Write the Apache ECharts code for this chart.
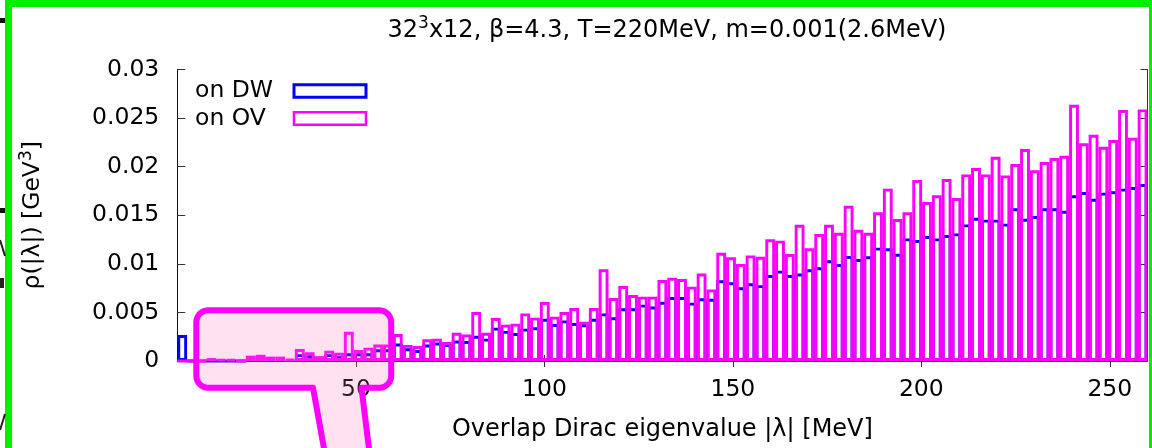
<!DOCTYPE html>
<html>
<head>
<meta charset="utf-8">
<script src="https://cdn.jsdelivr.net/npm/echarts@6/dist/echarts.min.js"></script>
<style>
  html, body { margin: 0; padding: 0; background: #ffffff; }
  #chart { width: 1152px; height: 448px; }
</style>
</head>
<body>
<div id="chart"></div>
<script>
// Eigenvalue density histogram, 32^3x12 lattice, beta=4.3, T=220 MeV
const BIN_WIDTH = 2.6;             // MeV per histogram bin
const X_MIN = 2.6;
const X_MAX = 260;
const xTickValues = [50, 100, 150, 200, 250];
const Y_MIN = 0;
const Y_MAX = 0.03;
const Y_STEP = 0.005;

const seriesNames = ['on DW', 'on OV'];

// rho(|lambda|) [GeV^3] per bin, bins starting at 2.6 MeV
const dwDensity = [
  0.00267, 0, 0, 0, 0, 0, 0, 0.00028, 0.00038, 0.0002,
  0.0002, 0.0001, 0.0007, 0.0006, 0.0004, 0.0007, 0.0005, 0.0008, 0.0008, 0.0008,
  0.0012, 0.0012, 0.0018, 0.0013, 0.00113, 0.0017, 0.0019, 0.00175, 0.0021, 0.00206,
  0.0026, 0.0023, 0.00343, 0.0031, 0.00288, 0.00333, 0.00347, 0.00435, 0.0038, 0.00418,
  0.0039, 0.00377, 0.00435, 0.0049, 0.0045, 0.00542, 0.00542, 0.0058, 0.0056, 0.0061,
  0.00658, 0.00658, 0.006, 0.00645, 0.0064, 0.0083, 0.0081, 0.00758, 0.008, 0.0078,
  0.00885, 0.0093, 0.00885, 0.009, 0.00943, 0.00964, 0.01036, 0.00998, 0.0108, 0.0105,
  0.01077, 0.01166, 0.0116, 0.01104, 0.01262, 0.01245, 0.01286, 0.01262, 0.01296, 0.01313,
  0.01406, 0.01474, 0.01454, 0.01454, 0.01413, 0.01571, 0.01464, 0.01492, 0.01571, 0.01571,
  0.01546, 0.01705, 0.01739, 0.0167, 0.01732, 0.01746, 0.01773, 0.0179, 0.01821
];

const ovDensity = [
  0, 0, 0, 0.0003, 0.00017, 0.00017, 0, 0.00055, 0.00065, 0.00045,
  0.00045, 0.0002, 0.00123, 0.0009, 0.0005, 0.00106, 0.00086, 0.003, 0.00113, 0.00137,
  0.0017, 0.0017, 0.00278, 0.00165, 0.00154, 0.00223, 0.0023, 0.00195, 0.0029, 0.00274,
  0.00504, 0.0029, 0.00442, 0.00374, 0.00384, 0.0049, 0.00446, 0.00607, 0.00456, 0.00504,
  0.00545, 0.00405, 0.00545, 0.00943, 0.00648, 0.00772, 0.00679, 0.00662, 0.00662, 0.00833,
  0.00857, 0.00844, 0.00765, 0.009, 0.00737, 0.01114, 0.01067, 0.00998, 0.01087, 0.01073,
  0.01252, 0.01238, 0.011, 0.01402, 0.0116, 0.01307, 0.01402, 0.0132, 0.01598, 0.01351,
  0.0132, 0.0153, 0.01773, 0.01461, 0.0153, 0.01862, 0.01636, 0.01705, 0.01872, 0.01677,
  0.0192, 0.01985, 0.0192, 0.02102, 0.0191, 0.02027, 0.02181, 0.01962, 0.02047, 0.02088,
  0.02112, 0.02637, 0.0224, 0.02328, 0.02205, 0.02274, 0.02582, 0.02297, 0.02589
];

// bin centres: bin k covers [k*BIN_WIDTH, (k+1)*BIN_WIDTH], k = 1..99
const binCenters = dwDensity.map((_, i) => +((i + 1.5) * BIN_WIDTH).toFixed(3));

const FONT = 'DejaVu Sans';
const BLUE = '#0000ff';
const MAGENTA = '#ff00ff';
const AXIS_COLOR = '#333333';

const GRID = { left: 177.3, top: 69.5, right: 4.5, bottom: 87 };

// rounded call-out box with a tail running off the bottom edge
function arcPoints(cx, cy, r, a0, a1, n) {
  const pts = [];
  for (let i = 0; i <= n; i++) {
    const a = a0 + (a1 - a0) * i / n;
    pts.push([cx + r * Math.cos(a), cy + r * Math.sin(a)]);
  }
  return pts;
}
function calloutPoints(b) {
  const { x0, y0, x1, y1, r, tail } = b;
  const P = Math.PI;
  let pts = [];
  pts = pts.concat(arcPoints(x0 + r, y0 + r, r, P, 1.5 * P, 10));
  pts = pts.concat(arcPoints(x1 - r, y0 + r, r, 1.5 * P, 2 * P, 10));
  pts = pts.concat(arcPoints(x1 - r, y1 - r, r, 0, 0.5 * P, 10));
  pts.push(tail.rightTop, tail.rightBottom, tail.leftBottom, tail.leftTop);
  pts = pts.concat(arcPoints(x0 + r, y1 - r, r, 0.5 * P, P, 10));
  return pts;
}
const calloutBox = {
  x0: 196.3, y0: 310.3, x1: 391.2, y1: 387.8, r: 12,
  tail: {
    rightTop: [361.5, 387.8], rightBottom: [371, 465],
    leftBottom: [327, 465], leftTop: [313, 387.8]
  }
};

const chart = echarts.init(document.getElementById('chart'), null, { renderer: 'canvas' });

const option = {
  animation: false,
  backgroundColor: '#ffffff',
  textStyle: { fontFamily: FONT },
  title: {
    text: '32{sup|3}x12, β=4.3, T=220MeV, m=0.001(2.6MeV)',
    left: 662,
    textAlign: 'center',
    top: 10,
    textStyle: {
      fontFamily: FONT, fontSize: 24, fontWeight: 'normal', color: '#000000', lineHeight: 32,
      rich: {
        sup: { fontFamily: FONT, fontSize: 17, lineHeight: 17, verticalAlign: 'top', color: '#000000' }
      }
    }
  },
  legend: {
    orient: 'vertical',
    left: 190,
    top: 74,
    align: 'right',
    itemWidth: 72,
    itemHeight: 12.5,
    itemGap: 3.5,
    selectedMode: false,
    formatter: name => '{t|' + name + '}',
    textStyle: {
      rich: { t: { fontFamily: FONT, fontSize: 23.5, lineHeight: 24, width: 94, align: 'left', color: '#000000' } }
    },
    data: [
      { name: seriesNames[0], icon: 'rect', itemStyle: { color: 'rgba(0,0,0,0)', borderColor: BLUE, borderWidth: 3 } },
      { name: seriesNames[1], icon: 'rect', itemStyle: { color: 'rgba(0,0,0,0)', borderColor: MAGENTA, borderWidth: 2.5 } }
    ]
  },
  grid: { left: GRID.left, top: GRID.top, right: GRID.right, bottom: GRID.bottom, show: false },
  xAxis: [
    {
      type: 'value', position: 'bottom', min: X_MIN, max: X_MAX,
      name: 'Overlap Dirac eigenvalue |λ| [MeV]',
      nameLocation: 'middle', nameGap: 57,
      nameTextStyle: { fontFamily: FONT, fontSize: 24, color: '#000000' },
      axisLine: { show: true, lineStyle: { color: AXIS_COLOR, width: 1 } },
      axisTick: { show: true, inside: true, length: 6, customValues: xTickValues, lineStyle: { color: AXIS_COLOR } },
      axisLabel: { customValues: xTickValues, margin: 17, fontFamily: FONT, fontSize: 23.5, color: '#000000' },
      splitLine: { show: false }
    },
    {
      type: 'value', position: 'top', min: X_MIN, max: X_MAX,
      axisLine: { show: true, lineStyle: { color: AXIS_COLOR, width: 1 } },
      axisTick: { show: true, inside: true, length: 6, customValues: xTickValues, lineStyle: { color: AXIS_COLOR } },
      axisLabel: { show: false },
      splitLine: { show: false }
    }
  ],
  yAxis: [
    {
      type: 'value', position: 'left', min: Y_MIN, max: Y_MAX, interval: Y_STEP,
      name: 'ρ(|λ|) [GeV{sup|3}]',
      nameLocation: 'middle', nameGap: 129, nameRotate: 90,
      nameTextStyle: {
        fontFamily: FONT, fontSize: 23.5, color: '#000000', lineHeight: 30,
        rich: { sup: { fontFamily: FONT, fontSize: 17, lineHeight: 17, verticalAlign: 'top', color: '#000000' } }
      },
      axisLine: { show: true, lineStyle: { color: '#111111', width: 1 } },
      axisTick: { show: true, inside: true, length: 8, lineStyle: { color: AXIS_COLOR } },
      axisLabel: { margin: 18, fontFamily: FONT, fontSize: 23.5, color: '#000000' },
      splitLine: { show: false }
    },
    {
      type: 'value', position: 'right', min: Y_MIN, max: Y_MAX, interval: Y_STEP,
      axisLine: { show: true, lineStyle: { color: AXIS_COLOR, width: 1 } },
      axisTick: { show: true, inside: true, length: 7, lineStyle: { color: AXIS_COLOR } },
      axisLabel: { show: false },
      splitLine: { show: false }
    }
  ],
  series: [
    {
      name: seriesNames[0], type: 'bar', xAxisIndex: 0, yAxisIndex: 0,
      data: binCenters.map((x, i) => [x, dwDensity[i]]),
      barWidth: 9.8, barGap: '-100%', z: 2, silent: true,
      itemStyle: { color: 'rgba(0,0,0,0)', borderColor: BLUE, borderWidth: 2.9 }
    },
    {
      name: seriesNames[1], type: 'bar', xAxisIndex: 0, yAxisIndex: 0,
      data: binCenters.map((x, i) => [x, ovDensity[i]]),
      barWidth: 9.8, barGap: '-100%', z: 3, silent: true,
      itemStyle: { color: 'rgba(0,0,0,0)', borderColor: MAGENTA, borderWidth: 2.9 }
    }
  ],
  graphic: [
    {
      type: 'polygon', z: 100, silent: true,
      shape: { points: calloutPoints(calloutBox) },
      style: { fill: 'rgba(255,105,180,0.2)', stroke: MAGENTA, lineWidth: 6, lineJoin: 'round' }
    },
    {
      type: 'rect', z: 110, silent: true,
      shape: { x: 8.5, y: 3.5, width: 1144, height: 520 },
      style: { fill: 'none', stroke: '#00ee00', lineWidth: 7 }
    },
    // pieces of neighbouring artwork at the far left edge
    { type: 'rect', z: 110, silent: true, shape: { x: 0, y: 18, width: 5, height: 5 }, style: { fill: '#111111' } },
    { type: 'rect', z: 110, silent: true, shape: { x: 0, y: 208, width: 5, height: 5 }, style: { fill: '#111111' } },
    { type: 'polyline', z: 110, silent: true, shape: { points: [[0, 240], [5, 256]] }, style: { stroke: '#222222', lineWidth: 2 } },
    { type: 'rect', z: 110, silent: true, shape: { x: 0, y: 278, width: 4, height: 10 }, style: { fill: '#222222' } },
    { type: 'polyline', z: 110, silent: true, shape: { points: [[0, 430], [5, 414]] }, style: { stroke: '#222222', lineWidth: 2 } }
  ]
};

chart.setOption(option);
</script>
</body>
</html>
